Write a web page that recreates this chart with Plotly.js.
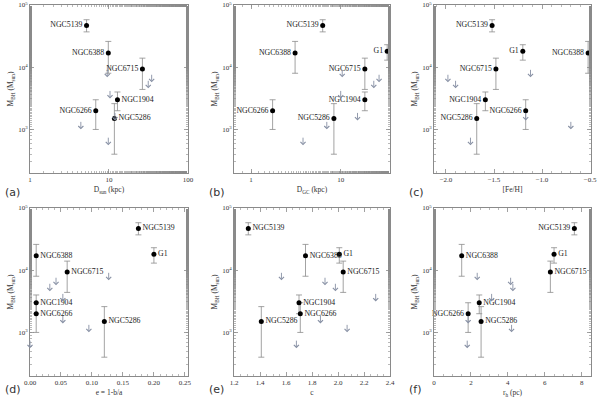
<!DOCTYPE html>
<html>
<head>
<meta charset="utf-8">
<script src="https://cdn.plot.ly/plotly-3.0.1.min.js"></script>
<style>
  html, body { margin: 0; padding: 0; background: #fff; }
  #plot { width: 600px; height: 398px; }
</style>
</head>
<body>
<div id="plot"></div>
<script>
// clusters with a measured black hole mass
const names = ['NGC5139', 'NGC6388', 'NGC6715', 'NGC1904', 'NGC6266', 'NGC5286', 'G1'];
const mbh = [4.7e4, 1.7e4, 9.4e3, 3.0e3, 2.0e3, 1.5e3, 1.8e4];
const mbhLo = [3.7e4, 0.8e4, 4.4e3, 2.0e3, 1.0e3, 0.4e3, 1.3e4];
const mbhHi = [5.8e4, 2.6e4, 1.4e4, 4.0e3, 3.0e3, 2.6e3, 2.3e4];
const dSun = [5.2, 9.8, 26.5, 12.8, 6.8, 11.7, null];   // G1 is off the scale
const dGC = [6.3, 3.1, 18.6, 18.6, 1.74, 8.4, 33];
const feH = [-1.52, -0.52, -1.48, -1.59, -1.17, -1.68, -1.20];
const ell = [0.175, 0.01, 0.06, 0.01, 0.01, 0.12, 0.20];
const conc = [1.31, 1.75, 2.04, 1.70, 1.71, 1.41, 2.01];
const rh = [7.6, 1.5, 6.3, 2.45, 1.85, 2.55, 6.5];

// upper limits (grey arrows)
const limM = [9.6e3, 8.0e3, 6.4e3, 4.4e3, 1.95e3, 1.4e3, 7.8e2];
const limDSun = [9.5, 34.7, 31.4, 10.3, 11.9, 4.4, 9.8];
const limDGC = [10.4, 26.8, 23.4, 10.0, 15.4, 7.0, 3.8];
const limFeH = [-1.12, -1.98, -1.90, null, -1.17, -0.70, -1.745];
const limEll = [0.127, 0.042, 0.032, 0.053, 0.053, 0.095, 0.0];
const limConc = [1.565, 1.90, 1.98, 2.29, 1.865, 2.07, 1.68];
const limRh = [2.34, 4.15, 4.27, 3.12, 1.85, 4.2, 1.8];

const yTickVals = [1e3, 1e4, 1e5];
const yTickText = ['10<sup>3</sup>', '10<sup>4</sup>', '10<sup>5</sup>'];
const panelLetters = ['(a)', '(b)', '(c)', '(d)', '(e)', '(f)'];

const L = 'middle left', R = 'middle right';
const panels = [
    { x: dSun, lx: limDSun, title: 'D<sub>sun</sub> (kpc)', log: true,
      pos: [L, L, L, R, L, R, L] },
    { x: dGC, lx: limDGC, title: 'D<sub>GC</sub> (kpc)', log: true,
      pos: [L, L, L, L, L, L, L] },
    { x: feH, lx: limFeH, title: '[Fe/H]', log: false,
      pos: [L, L, L, L, L, L, L] },
    { x: ell, lx: limEll, title: 'e = 1-b/a', log: false,
      pos: [R, R, R, R, R, R, R] },
    { x: conc, lx: limConc, title: 'c', log: false,
      pos: [R, R, R, R, R, R, R] },
    { x: rh, lx: limRh, title: 'r<sub>h</sub> (pc)', log: false,
      pos: [L, R, R, R, L, R, R] },
];

const xOpts = [
    { type: 'log', range: [0, 2], tickvals: [1, 10, 100], ticktext: ['1', '10', '100'] },
    { type: 'log', range: [-0.19, 1.55], tickvals: [1, 10], ticktext: ['1', '10'] },
    { range: [-2.125, -0.49], dtick: 0.5, tick0: 0, tickformat: '.1f' },
    { range: [0, 0.255], dtick: 0.05, tick0: 0, tickformat: '.2f' },
    { range: [1.2, 2.4], dtick: 0.2, tick0: 0, tickformat: '.1f' },
    { range: [0, 8.5], dtick: 2, tick0: 0 },
];

const xDomains = [[0.05, 0.3133], [0.39, 0.65], [0.7233, 0.985]];
const yDomains = [[0.5653, 0.9874], [0.0553, 0.4774]];

const serif = '"Liberation Serif", serif';
const frameColor = '#8a8a8a';
const arrowColor = '#8790a4';

const data = [];
const annotations = [];
const layout = {
    width: 600, height: 398,
    margin: { l: 0, r: 0, t: 0, b: 0 },
    paper_bgcolor: '#fff', plot_bgcolor: '#fff',
    showlegend: false,
    font: { family: serif, size: 7, color: '#222' },
};

panels.forEach((p, i) => {
    const n = i + 1;
    const xa = 'x' + (n === 1 ? '' : n);
    const ya = 'y' + (n === 1 ? '' : n);
    const col = i % 3, row = Math.floor(i / 3);

    layout['xaxis' + (n === 1 ? '' : n)] = Object.assign({
        domain: xDomains[col], anchor: ya,
        showline: true, linecolor: frameColor, linewidth: 1, mirror: 'allticks',
        ticks: 'inside', ticklen: 4, tickcolor: frameColor, tickwidth: 0.8,
        minor: { ticks: 'inside', ticklen: 2, tickcolor: frameColor, tickwidth: 0.6 },
        showgrid: false, zeroline: false, fixedrange: true,
        tickfont: { family: serif, size: 7, color: '#333' },
        title: { text: p.title, font: { family: serif, size: 7.5, color: '#333' }, standoff: 3 },
    }, xOpts[i]);

    layout['yaxis' + (n === 1 ? '' : n)] = {
        domain: yDomains[row], anchor: xa, type: 'log', range: [2.3, 5],
        tickvals: yTickVals, ticktext: yTickText,
        showline: true, linecolor: frameColor, linewidth: 1, mirror: 'allticks',
        ticks: 'inside', ticklen: 4, tickcolor: frameColor, tickwidth: 0.8,
        minor: { ticks: 'inside', ticklen: 2, tickcolor: frameColor, tickwidth: 0.6 },
        showgrid: false, zeroline: false, fixedrange: true,
        tickfont: { family: serif, size: 7, color: '#333' },
        title: { text: 'M<sub>BH</sub> (M<sub>sun</sub>)', font: { family: serif, size: 7.5, color: '#333' }, standoff: 3 },
    };

    data.push({
        x: p.x, y: mbh, xaxis: xa, yaxis: ya,
        type: 'scatter', mode: 'markers+text',
        text: names, textposition: p.pos,
        textfont: { family: serif, size: 7.8, color: '#222' },
        marker: { color: '#000', size: 5 },
        error_y: {
            type: 'data', symmetric: false,
            array: mbh.map((m, k) => mbhHi[k] - m),
            arrayminus: mbh.map((m, k) => m - mbhLo[k]),
            color: '#8c8c8c', thickness: 0.8, width: 3,
        },
        cliponaxis: false,
        hoverinfo: 'skip',
    });

    // upper limits: arrow tail sits on the limit, head points down
    p.lx.forEach((xv, k) => {
        if (xv === null) return;
        annotations.push({
            xref: xa, yref: ya,
            x: p.log ? Math.log10(xv) : xv,
            y: Math.log10(limM[k]),
            text: '', showarrow: true,
            ax: 0, ay: -9, yshift: -9,
            arrowhead: 4, arrowsize: 1.1, arrowwidth: 0.9, arrowcolor: arrowColor,
        });
    });

    annotations.push({
        xref: 'paper', yref: 'paper',
        x: (xDomains[col][0] * 600 - 27) / 600,
        y: row === 0 ? 1 - 192 / 398 : 1 - 389 / 398,
        xanchor: 'left', yanchor: 'middle',
        text: panelLetters[i], showarrow: false,
        font: { family: 'DejaVu Sans, sans-serif', size: 11, color: '#333' },
    });
});

layout.annotations = annotations;

Plotly.newPlot('plot', data, layout, { displayModeBar: false, staticPlot: true });
</script>
</body>
</html>
